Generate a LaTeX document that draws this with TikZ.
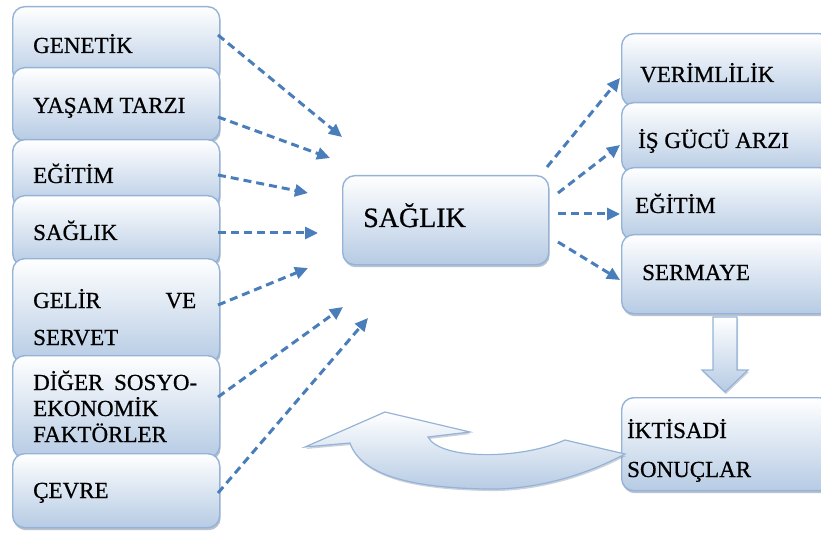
\documentclass[tikz,border=0pt]{standalone}
\usepackage{fontspec}
\setmainfont{Liberation Serif}[FakeBold=0.6]
\usetikzlibrary{arrows.meta,shadows}
\definecolor{bordc}{HTML}{95B3D7}
\definecolor{boxb}{HTML}{B6CBE4}
\definecolor{dashc}{HTML}{4A7EBB}
\definecolor{shadc}{HTML}{7F8FA6}
\tikzset{
  box/.style={rounded corners=12pt, draw=bordc, line width=1.4pt, top color=white, bottom color=boxb,
    drop shadow={shadow xshift=1pt, shadow yshift=-2.5pt, fill=shadc, opacity=0.55},
    inner sep=0pt, anchor=north west},
  lbl/.style={anchor=base west, inner sep=0pt, font=\fontsize{23}{26}\selectfont},
  dasharrow/.style={dashc, line width=3pt, dash pattern=on 8pt off 5pt, -{Triangle[length=13pt,width=12pt]}},
  bigarrow/.style={draw=bordc, line width=1.2pt, top color=white, bottom color=boxb,
    drop shadow={shadow xshift=1pt, shadow yshift=-2pt, fill=shadc, opacity=0.4}}
}
\begin{document}
\begin{tikzpicture}[x=1pt,y=-1pt]
\useasboundingbox (0,0) rectangle (821,537);
% left boxes
\node[box, minimum width=207pt, minimum height=76pt] (g1) at (12,6) {};
\node[box, minimum width=207pt, minimum height=73pt] (g2) at (12,67) {};
\node[box, minimum width=207pt, minimum height=68pt] (g3) at (12,139) {};
\node[box, minimum width=207pt, minimum height=70pt] (g4) at (12,195) {};
\node[box, minimum width=207pt, minimum height=104pt] (g5) at (12,258) {};
\node[box, minimum width=207pt, minimum height=102pt] (g6) at (12,355) {};
\node[box, minimum width=207pt, minimum height=74pt] (g7) at (12,453) {};
\node[lbl] (t1) at (33,53) {GENETİK};
\node[lbl] (t2) at (33,113) {YAŞAM TARZI};
\node[lbl] (t3) at (33,183) {EĞİTİM};
\node[lbl] (t4) at (33,240) {SAĞLIK};
\node[lbl] (t5a) at (33,308) {\makebox[163pt][s]{GELİR\hfill VE}};
\node[lbl] (t5b) at (33,345) {SERVET};
\node[lbl] (t6a) at (33,390) {\makebox[164pt][s]{DİĞER\hfill SOSYO-}};
\node[lbl] (t6b) at (33,416) {EKONOMİK};
\node[lbl] (t6c) at (33,442) {FAKTÖRLER};
\node[lbl] (t7) at (33,498) {ÇEVRE};
% center box
\node[box, minimum width=206pt, minimum height=89pt] (c) at (342,175) {};
\node[lbl, font=\fontsize{28}{32}\selectfont] (tc) at (363,227) {SAĞLIK};
% right boxes
\node[box, minimum width=210pt, minimum height=72pt] (r1) at (621,33) {};
\node[box, minimum width=210pt, minimum height=70pt] (r2) at (621,102) {};
\node[box, minimum width=210pt, minimum height=72pt] (r3) at (621,167) {};
\node[box, minimum width=210pt, minimum height=79pt] (r4) at (621,234) {};
\node[lbl] (u1) at (640,82) {VERİMLİLİK};
\node[lbl] (u2) at (638,148) {İŞ GÜCÜ ARZI};
\node[lbl] (u3) at (635,213) {EĞİTİM};
\node[lbl] (u4) at (642,280) {SERMAYE};
% result box
\node[box, minimum width=210pt, minimum height=93pt] (res) at (621,397) {};
\node[lbl] (v1) at (627,438) {İKTİSADİ};
\node[lbl] (v2) at (627,477) {SONUÇLAR};
% down arrow
\path[bigarrow] (713,317) -- (737,317) -- (737,370) -- (748,370) -- (725,392) -- (702,370) -- (713,370) -- cycle;
% curved arrow
\path[bigarrow] (305,447) -- (385,412) -- (470,432) -- (428,437)
  .. controls (440,460) and (520,460) .. (565,440) -- (625,454)
  .. controls (580,478) and (530,490) .. (487,489)
  .. controls (420,488) and (362,478) .. (350,443) -- cycle;
% coordinates
\coordinate (a1s) at (218,35);  \coordinate (a1e) at (342,137);
\coordinate (a2s) at (218,117); \coordinate (a2e) at (330,158);
\coordinate (a3s) at (218,175); \coordinate (a3e) at (308,193);
\coordinate (a4s) at (218,233); \coordinate (a4e) at (318,233);
\coordinate (a5s) at (218,305); \coordinate (a5e) at (308,268);
\coordinate (a6s) at (218,397); \coordinate (a6e) at (343,307);
\coordinate (a7s) at (218,493); \coordinate (a7e) at (368,318);
\coordinate (b1s) at (547,167); \coordinate (b1e) at (620,78);
\coordinate (b2s) at (558,193); \coordinate (b2e) at (620,145);
\coordinate (b3s) at (558,214); \coordinate (b3e) at (620,214);
\coordinate (b4s) at (558,242); \coordinate (b4e) at (620,280);
\foreach \i in {1,...,7} { \draw[dasharrow] (a\i s) -- (a\i e); }
\foreach \i in {1,...,4} { \draw[dasharrow] (b\i s) -- (b\i e); }
\end{tikzpicture}
\end{document}
